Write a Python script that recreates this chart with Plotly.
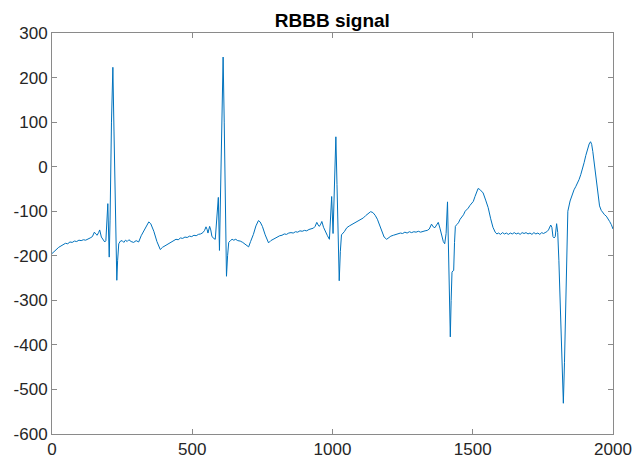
import plotly.graph_objects as go

title_text = "RBBB signal"
x_ticks = [0, 500, 1000, 1500, 2000]
y_ticks = [-600, -500, -400, -300, -200, -100, 0, 100, 200, 300]

# sample index
t = [0, 8, 16, 24, 32, 40, 48, 56, 64, 72, 80, 88, 96, 104, 112, 120, 128, 136, 144, 151, 156, 161, 166, 170, 176, 182, 188,
     192, 196, 199, 204, 207, 212, 217, 221, 226, 231, 234, 238,
     244, 250, 256, 262, 268, 274, 282, 291, 300, 309, 318, 327, 337, 345, 352, 363, 374, 386, 394, 402, 410, 418, 426, 434,
     442, 450, 458, 466, 474, 482, 490, 498, 506, 514, 522, 530, 538, 544, 549, 553, 556, 562, 566, 570, 576, 582,
     586, 590, 593, 597, 600, 605, 610, 614, 618, 622, 626, 630,
     636, 642, 648, 655, 662, 671, 680, 692, 701, 708, 718, 727, 736, 742, 750, 760, 772, 780, 788, 796, 804, 812, 820, 828,
     836, 844, 852, 860, 868, 876, 884, 892, 900, 908, 916, 924, 932, 938, 944, 949, 953, 958, 962, 968, 974, 982,
     989, 993, 997, 1002, 1006, 1012, 1016, 1020, 1024, 1028, 1032,
     1042, 1051, 1060, 1068, 1076, 1084, 1092, 1102, 1110, 1118, 1127, 1136, 1144, 1152, 1160, 1168, 1175, 1184, 1193,
     1200, 1208, 1217, 1226, 1234, 1242, 1250, 1258, 1266, 1274, 1282, 1290, 1298, 1306, 1314, 1322, 1330, 1338,
     1345, 1353, 1359, 1365, 1371, 1377, 1383, 1389, 1395, 1400, 1405, 1410, 1414, 1420, 1423, 1426, 1429, 1432, 1435, 1438,
     1443, 1449, 1455, 1461, 1467, 1473, 1479, 1484, 1490, 1496, 1502, 1508, 1514, 1519, 1525, 1531, 1537, 1546, 1555, 1564,
     1572, 1580, 1586, 1592, 1599, 1606, 1613, 1620, 1627, 1634, 1641, 1648, 1655, 1662, 1669, 1676, 1683, 1690, 1697, 1704,
     1711, 1718, 1725, 1732, 1739, 1746, 1752, 1758, 1764, 1770, 1774, 1778, 1782, 1786, 1790, 1794, 1799, 1803, 1807, 1811,
     1817, 1823, 1827, 1831, 1835, 1839, 1847, 1855, 1861, 1867, 1873, 1879, 1885, 1891, 1897, 1903, 1909, 1915, 1920, 1924,
     1928, 1934, 1940, 1946, 1952, 1958, 1964, 1970, 1976, 1982, 1988, 1994, 2000]

# amplitude
v = [-195, -190, -186, -181, -178, -175, -172, -173, -169, -170, -167, -168, -165, -166, -164, -165, -163, -160, -157, -147, -151, -154, -148, -142, -158, -165, -169,
     -166, -105, -83, -203, -120, 100, 223, 80, -100, -255, -210, -173,
     -167, -166, -170, -165, -168, -164, -168, -170, -166, -169, -155, -145, -132, -124, -128, -145, -168, -186, -181, -178, -174, -171, -168, -166,
     -163, -164, -160, -161, -158, -159, -156, -157, -154, -155, -152, -151, -148, -143, -135, -141, -149, -134, -142, -156, -161, -163,
     -122, -91, -69, -188, -100, 120, 246, 100, -100, -246, -200, -170,
     -166, -163, -165, -163, -166, -167, -170, -175, -180, -168, -152, -133, -121, -124, -134, -153, -171, -166, -163, -160, -158, -155, -154, -151,
     -152, -149, -148, -149, -146, -147, -144, -145, -143, -144, -141, -140, -138, -134, -125, -131, -134, -129, -123, -136, -145, -155,
     -163, -110, -67, -150, -60, 67, -40, -180, -256, -190, -153,
     -146, -137, -133, -130, -127, -125, -121, -117, -115, -110, -105, -101, -103, -109, -118, -133, -146, -158, -163,
     -159, -156, -154, -152, -151, -149, -150, -147, -149, -146, -148, -146, -147, -145, -147, -145, -144, -143,
     -140, -129, -135, -137, -131, -125, -138, -152, -168, -173, -150, -79, -200, -382, -300, -237, -234, -233, -170, -134,
     -130, -126, -118, -113, -108, -100, -97, -93, -87, -83, -78, -67, -56, -49, -51, -54, -59, -75, -92, -117,
     -136, -147, -151, -149, -152, -148, -151, -149, -152, -149, -151, -148, -151, -149, -152, -148, -150, -148, -151, -149,
     -152, -148, -151, -149, -152, -148, -150, -148, -146, -142, -138, -131, -136, -157, -160, -157, -128, -148, -210, -299,
     -430, -531, -440, -299, -150, -100, -77, -60, -52, -45, -38, -29, -18, -6, 9, 25, 40, 51, 56, 50,
     34, 3, -28, -60, -88, -98, -104, -108, -111, -116, -123, -130, -140]

fig = go.Figure()
fig.add_trace(go.Scatter(
    x=t, y=v, mode="lines",
    line=dict(color="#0072BD", width=1),
    hoverinfo="skip", showlegend=False,
))

axis_common = dict(
    showline=True, linecolor="#8a8a8a", linewidth=1, mirror="ticks",
    ticks="inside", ticklen=5, tickcolor="#8a8a8a", tickwidth=1,
    showgrid=False, zeroline=False, automargin=False,
    tickfont=dict(family="Liberation Sans, Arial, sans-serif", size=17, color="#262626"),
)

fig.update_layout(
    width=633, height=459,
    margin=dict(l=52, r=20, t=33, b=25),
    paper_bgcolor="white", plot_bgcolor="white",
    title=dict(text="<b>" + title_text + "</b>", x=0.525, xanchor="center",
               y=0.955, yanchor="middle",
               font=dict(family="Liberation Sans, Arial, sans-serif", size=19, color="#000000")),
    xaxis=dict(range=[0, 2000], tickvals=x_ticks, ticktext=[str(k) for k in x_ticks], **axis_common),
    yaxis=dict(range=[-600, 300], tickvals=y_ticks, ticktext=[str(k) for k in y_ticks], **axis_common),
)

fig.write_html("out.html")
